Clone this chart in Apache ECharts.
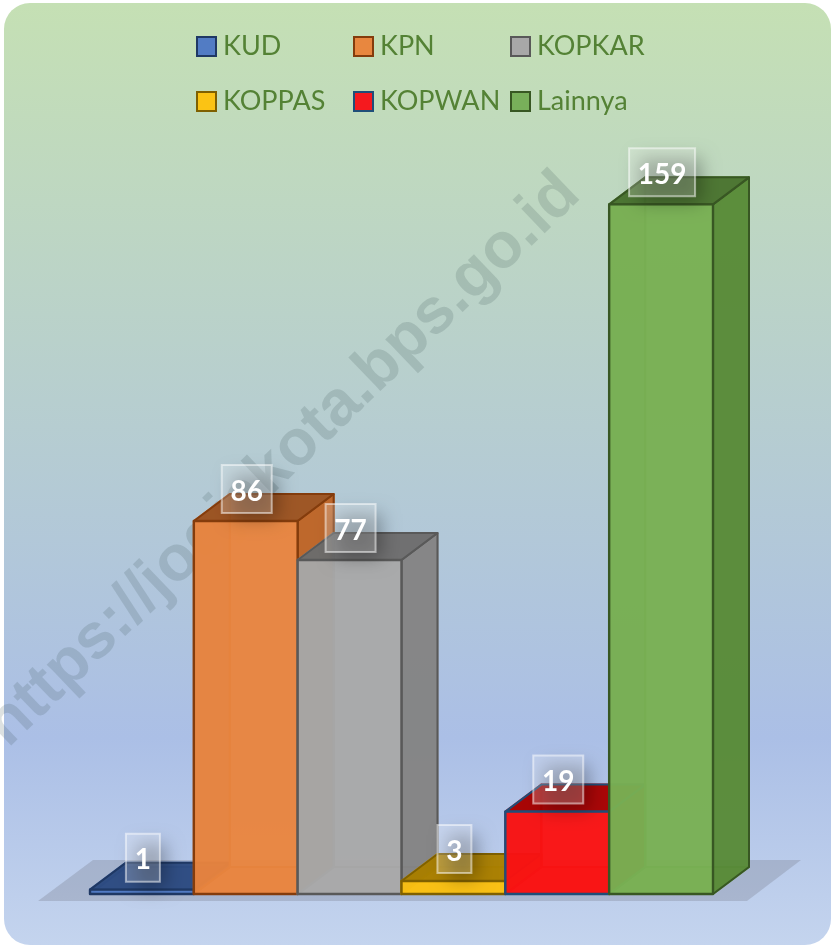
<!DOCTYPE html>
<html><head><meta charset="utf-8">
<style>html,body{margin:0;padding:0;background:#fff}#c{width:835px;height:947px}</style>
<script src="https://cdn.jsdelivr.net/npm/echarts@6/dist/echarts.min.js"></script>
</head><body><div id="c"></div>
<script>
const categories = ['KUD','KPN','KOPKAR','KOPPAS','KOPWAN','Lainnya'];
const values = [1,86,77,3,19,159];
const fills = ['#4472C4','#ED7D31','#A5A5A5','#FFC000','#FF0000','#70AD47'];
const legendFills = ['#527CC4','#E8873F','#A8A8A8','#FBC314','#F5191E','#78AF5A'];
const borders = ['#1F3864','#843C0C','#595959','#7F6000','#1F4E79','#385723'];
const legendColumns = [['KUD','KOPPAS'],['KPN','KOPWAN'],['KOPKAR','Lainnya']];
const watermark = 'https://jogjakota.bps.go.id';

const FONT = 'Lato, "Noto Sans", sans-serif';
const DX = 36, DY = -27;
function shade(hex, k, a){
  const n = parseInt(hex.slice(1),16);
  return 'rgba('+Math.round((n>>16&255)*k)+','+Math.round((n>>8&255)*k)+','+Math.round((n&255)*k)+','+a+')';
}
function poly(points, fill, stroke, lw){
  return {type:'polygon',shape:{points},style:{fill,stroke:stroke||'none',lineWidth:lw||0,lineJoin:'round'}};
}
function barRender(params, api){
  const i = api.value(0), v = api.value(1);
  const c = api.coord([i,v]), b = api.coord([i,0]), w = api.size([1,0])[0];
  const x0 = c[0]-w/2, x1 = c[0]+w/2, yT = c[1], yB = b[1];
  const col = fills[i], ln = borders[i];
  const inner = shade(col,0.9,0.9);
  const front = [[x0,yT],[x1,yT],[x1,yB],[x0,yB]];
  return {type:'group',children:[
    poly([[x0+DX,yT+DY],[x1+DX,yT+DY],[x1+DX,yB+DY],[x0+DX,yB+DY]],shade(col,1,0.75),inner,2),
    poly([[x0,yB],[x1,yB],[x1+DX,yB+DY],[x0+DX,yB+DY]],shade(col,1,0.85),inner,2),
    poly([[x0,yT],[x0+DX,yT+DY],[x0+DX,yB+DY],[x0,yB]],shade(col,0.9,0.8),inner,2),
    poly([[x1,yT],[x1+DX,yT+DY],[x1+DX,yB+DY],[x1,yB]],shade(col,0.78,0.88),ln,2),
    poly([[x0,yT],[x1,yT],[x1+DX,yT+DY],[x0+DX,yT+DY]],shade(col,0.63,0.88),ln,2),
    poly(front,shade(col,0.98,0.85)),
    poly(front,'rgba(255,255,255,0.07)',ln,2.4)
  ]};
}
function floorRender(params, api){
  const a = api.coord([0,0]), e = api.coord([categories.length-1,0]), w = api.size([1,0])[0];
  const l = a[0]-w/2, r = e[0]+w/2, y = a[1];
  return poly([[l-52,y+7],[l+3,y-34],[r+88,y-34],[r+34,y+7]],'rgba(110,115,130,0.28)');
}
function labelRender(params, api){
  const i = api.value(0), v = api.value(1), c = api.coord([i,v]);
  const t = String(v), bw = 18+16*t.length, bh = 48, cx = c[0]+1, cy = c[1]-32;
  const SH = 1500;
  return {type:'group',children:[
    {type:'rect',shape:{x:cx-bw/2+10-SH,y:cy-bh/2+10,width:bw-4,height:bh-4},
     style:{fill:'#000',shadowColor:'rgba(0,0,0,0.3)',shadowBlur:18,shadowOffsetX:SH}},
    {type:'text',style:{
      text:t,x:cx,y:cy+2.5,align:'center',verticalAlign:'middle',
      fill:'#fff',font:'bold 28px '+FONT}},
    {type:'rect',shape:{x:cx-bw/2,y:cy-bh/2,width:bw,height:bh},
     style:{fill:'rgba(255,255,255,0.22)',stroke:'rgba(255,255,255,0.5)',lineWidth:2}}
  ]};
}
const chart = echarts.init(document.getElementById('c'),null,{renderer:'canvas'});
const legendX = [196,353,510];
const series = [{type:'custom',name:'floor',coordinateSystem:'cartesian2d',renderItem:floorRender,clip:false,data:[[categories[0],0]],silent:true,z:1}];
categories.forEach((n,i)=>series.push({
  type:'custom',name:n,coordinateSystem:'cartesian2d',renderItem:barRender,clip:false,
  itemStyle:{color:fills[i],borderColor:borders[i],borderWidth:2},
  data:[[n,values[i]]],z:2
}));
series.push({type:'custom',name:'labels',coordinateSystem:'cartesian2d',renderItem:labelRender,clip:false,
  data:categories.map((n,i)=>[n,values[i]]),z:5});
chart.setOption({
  animation:false,
  backgroundColor:'#fff',
  grid:{left:90,width:623,top:200,height:694,containLabel:false},
  xAxis:{type:'category',data:categories,show:false},
  yAxis:{type:'value',min:0,max:160,show:false},
  legend:legendColumns.map((col,k)=>({
    orient:'vertical',left:legendX[k],top:33,padding:0,itemWidth:19,itemHeight:19,itemGap:28,
    selectedMode:false,
    textStyle:{color:'#548235',fontSize:27,lineHeight:20,fontFamily:FONT,padding:[0,0,0,2]},
    data:col.map(n=>{const i=categories.indexOf(n);return {name:n,icon:'rect',itemStyle:{color:legendFills[i],borderColor:borders[i],borderWidth:2}};})
  })),
  graphic:[
    {type:'rect',z:-10,silent:true,shape:{x:4,y:3,width:827,height:942,r:26},
     style:{fill:new echarts.graphic.LinearGradient(0,0,0,1,[
       {offset:0,color:'#C5E0B4'},{offset:0.78,color:'#ABBFE6'},{offset:1,color:'#C4D4EE'}])}},
    {type:'text',z:0,silent:true,x:283,y:460,rotation:0.765,
     style:{text:watermark,align:'center',verticalAlign:'middle',fill:'rgba(55,80,75,0.17)',font:'bold 64px "Liberation Sans", Arial, sans-serif'}}
  ],
  series
});
</script></body></html>
